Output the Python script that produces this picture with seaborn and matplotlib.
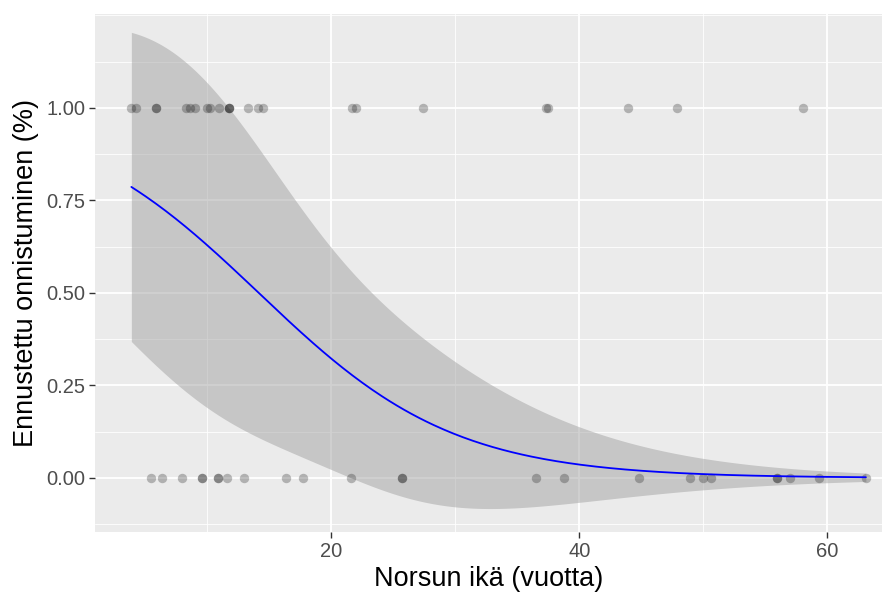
import numpy as np
import pandas as pd
import matplotlib
matplotlib.use("Agg")
import matplotlib.pyplot as plt
import seaborn as sns
from matplotlib.ticker import MultipleLocator

age_success = [3.9, 4.3, 5.9, 5.9, 8.3, 8.6, 9.0, 10.0, 10.2, 11.0, 11.8, 11.8, 11.8,
               13.3, 14.1, 14.5, 21.7, 22.0, 27.4, 37.3, 37.5, 43.9, 47.9, 58.0]
age_fail = [5.5, 6.4, 8.0, 9.6, 9.6, 10.9, 10.9, 11.6, 13.0, 16.4, 17.7, 21.6,
            25.7, 25.7, 36.5, 38.8, 44.8, 48.9, 50.0, 50.6, 55.9, 55.9, 57.0, 59.3, 63.1]

coef = [1.80, -0.127]                     # intercept, slope (logit scale)
vcov = [[2.222, -0.0866], [-0.0866, 0.00433]]

df = pd.DataFrame({
    "age": age_success + age_fail,
    "ok": [1] * len(age_success) + [0] * len(age_fail),
})

grid = np.linspace(df["age"].min(), df["age"].max(), 300)
G = np.column_stack([np.ones_like(grid), grid])
eta_g = G @ np.array(coef)
fit = 1 / (1 + np.exp(-eta_g))
se_link = np.sqrt(np.einsum("ij,jk,ik->i", G, np.array(vcov), G))
se = fit * (1 - fit) * se_link
pred = pd.DataFrame({"age": grid, "fit": fit, "lo": fit - 1.96 * se, "hi": fit + 1.96 * se})

sns.set_theme(style="darkgrid")
plt.rcParams["font.family"] = ["Liberation Sans", "DejaVu Sans"]

fig, ax = plt.subplots(figsize=(8.9, 5.96), dpi=100)
fig.subplots_adjust(left=95 / 890, right=882 / 890, top=1 - 14 / 596, bottom=1 - 532 / 596)
ax.set_facecolor("#EBEBEB")

ax.fill_between(pred["age"], pred["lo"], pred["hi"], color="#999999", alpha=0.45,
                linewidth=0, zorder=2)
sns.scatterplot(data=df, x="age", y="ok", ax=ax, color="black", alpha=0.25, s=46,
                linewidth=0, zorder=3)
sns.lineplot(data=pred, x="age", y="fit", ax=ax, color="#0000FF", linewidth=1.3, zorder=4)

ax.set_xlim(0.97, 64.4)
ax.set_ylim(-0.146, 1.254)
ax.xaxis.set_major_locator(MultipleLocator(20))
ax.xaxis.set_minor_locator(MultipleLocator(10))
ax.yaxis.set_major_locator(MultipleLocator(0.25))
ax.yaxis.set_minor_locator(MultipleLocator(0.125))
ax.set_yticks([0, 0.25, 0.5, 0.75, 1.0])
ax.set_yticklabels(["0.00", "0.25", "0.50", "0.75", "1.00"])
ax.grid(which="major", color="white", linewidth=1.3)
ax.grid(which="minor", color="white", linewidth=0.6)
ax.set_axisbelow(True)
for s in ax.spines.values():
    s.set_visible(False)

ax.tick_params(axis="both", which="major", length=4, width=1.0, color="#333333",
               labelsize=14.5, labelcolor="#4D4D4D", pad=3, bottom=True, left=True)
ax.tick_params(axis="both", which="minor", length=0)

ax.set_xlabel("Norsun ikä (vuotta)", fontsize=19.5, color="black", labelpad=4)
ax.set_ylabel("Ennustettu onnistuminen (%)", fontsize=19.5, color="black", labelpad=5)

fig.savefig("out.png", dpi=100, facecolor="white")
